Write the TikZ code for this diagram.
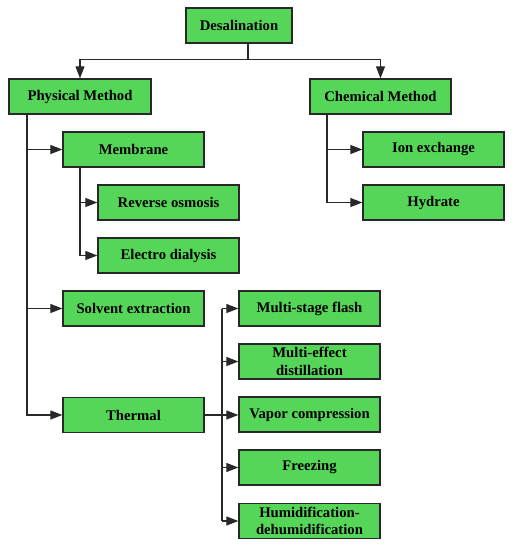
\documentclass[tikz,border=0pt]{standalone}
\usepackage{fontspec}
\setmainfont{Liberation Serif}
\usetikzlibrary{arrows.meta}
\definecolor{boxgreen}{RGB}{86,214,89}
\definecolor{edge}{RGB}{40,40,40}
\begin{document}
\begin{tikzpicture}[x=1pt,y=-1pt,
  box/.style={draw=edge, line width=1.3pt, fill=boxgreen, minimum width=141pt, minimum height=35pt,
    inner sep=1pt, align=center, font=\fontsize{14.7}{17.5}\selectfont\bfseries},
  conn/.style={draw=edge, line width=1.1pt},
  arr/.style={conn, -{Triangle[length=12pt,width=9pt]}}]
\useasboundingbox (0,0) rectangle (515,550);
\node[box, minimum width=106pt] (desal) at (239,25.5) {Desalination};
\node[box, minimum width=142pt] (phys) at (80,96.5) {Physical Method};
\node[box] (chem) at (380.5,96.5) {Chemical Method};
\node[box] (memb) at (133.5,149.5) {Membrane};
\node[box] (ion) at (433.5,149.5) {Ion exchange};
\node[box] (hyd) at (433.5,202.5) {Hydrate};
\node[box] (ro) at (168.5,202.5) {Reverse osmosis};
\node[box] (ed) at (168.5,255.5) {Electro dialysis};
\node[box] (solv) at (133.5,308.5) {Solvent extraction};
\node[box] (therm) at (133.5,415) {Thermal};
\node[box] (msf) at (309.5,308.5) {Multi-stage flash};
\node[box] (med) at (309.5,361.5) {Multi-effect\\distillation};
\node[box] (vap) at (309.5,414.5) {Vapor compression};
\node[box] (frz) at (309.5,467.5) {Freezing};
\node[box] (hum) at (309.5,521) {Humidification-\\dehumidification};
% top split
\coordinate (j0) at (248,59.5);
\draw[conn] (desal.south -| j0) -- (j0);
\draw[arr] (j0) -| (phys.north);
\draw[arr] (j0) -| (chem.north);
% physical trunk
\coordinate (px) at (27,0);
\draw[arr] (phys.south -| px) |- (memb.west);
\draw[arr] (phys.south -| px) |- (solv.west);
\draw[arr] (phys.south -| px) |- (therm.west);
% membrane trunk
\coordinate (mx) at (80,0);
\draw[arr] (memb.south -| mx) |- (ro.west);
\draw[arr] (memb.south -| mx) |- (ed.west);
% chemical trunk
\coordinate (cx) at (327,0);
\draw[arr] (chem.south -| cx) |- (ion.west);
\draw[arr] (chem.south -| cx) |- (hyd.west);
% thermal
\coordinate (tx) at (222,0);
\draw[arr] (therm.east) -- (therm.east -| vap.west);
\draw[conn] (msf.west -| tx) -- (hum.west -| tx);
\draw[arr] (msf.west -| tx) -- (msf.west);
\draw[arr] (med.west -| tx) -- (med.west);
\draw[arr] (frz.west -| tx) -- (frz.west);
\draw[arr] (hum.west -| tx) -- (hum.west);
\end{tikzpicture}
\end{document}
